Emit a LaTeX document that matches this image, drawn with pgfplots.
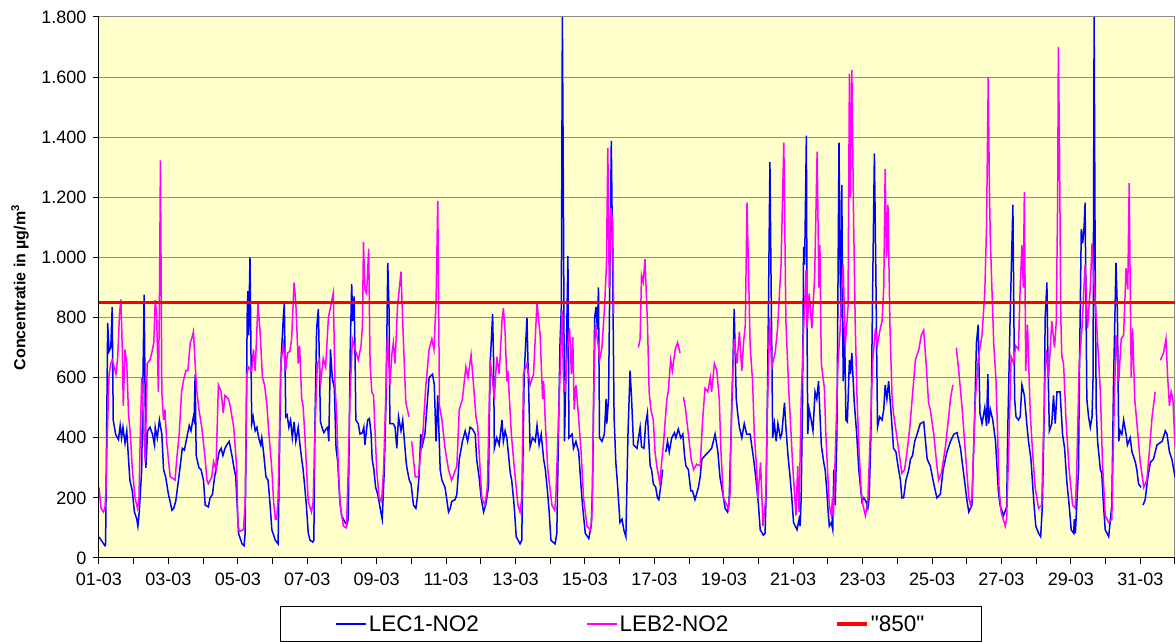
\documentclass[border=0pt]{standalone}
\usepackage{pgfplots}
\pgfplotsset{compat=1.18}
\usepackage{fontspec}
\setmainfont{Liberation Sans}
\newfontfamily\plainfont{Liberation Sans}
\definecolor{bgyellow}{RGB}{255,255,204}
\definecolor{gridgray}{RGB}{140,140,140}
\definecolor{lblue}{RGB}{0,0,255}
\definecolor{lmag}{RGB}{255,0,255}
\definecolor{lred}{RGB}{255,0,0}
\begin{document}
\begin{tikzpicture}[x=1pt,y=1pt]
\useasboundingbox (0,0) rectangle (1176,642);
\begin{axis}[
  at={(99pt,84pt)}, anchor=south west,
  scale only axis, width=1076pt, height=541pt,
  xmin=0, xmax=31, ymin=0, ymax=1800,
  axis x line*=bottom, axis y line*=left,
  axis line style={-, black, line width=1pt},
  axis background/.style={fill=bgyellow, draw=gridgray, line width=1pt},
  xtick={0,...,31},
  xticklabels={01-03,,03-03,,05-03,,07-03,,09-03,,11-03,,13-03,,15-03,,17-03,,19-03,,21-03,,23-03,,25-03,,27-03,,29-03,,31-03,,},
  ytick={0,200,...,1800},
  yticklabels={0,200,400,600,800,1.000,1.200,1.400,1.600,1.800},
  ymajorgrids, grid style={gridgray, line width=1pt},
  tick align=outside, major tick length=6pt,
  tick style={black, line width=1pt},
  tick label style={font=\fontsize{18}{21}\selectfont},
  xticklabel style={yshift=-5pt},
  yticklabel style={xshift=-3pt},
  ylabel={\textbf{Concentratie in µg/m\textsuperscript{3}}},
  every axis y label/.style={at={(axis description cs:-0.0734,0.5)}, rotate=90, anchor=center, font=\fontsize{16}{19}\selectfont},
  unbounded coords=jump,
  legend columns=3,
  legend style={at={(axis description cs:0.1682,-0.0887)}, anchor=north west,
    draw=black, line width=1pt, fill=white,
    font=\fontsize{22.5}{27}\selectfont,
    inner xsep=55pt, inner ysep=7pt,
    /tikz/every even column/.append style={column sep=105pt}},
  legend cell align=left,
  legend image code/.code={\draw[#1] (0pt,0pt) -- (30pt,0pt);},
]
\addplot[lblue, line width=1.5pt] table {
0.00 70
0.17 41
0.19 45
0.25 782
0.29 688
0.34 700
0.38 835
0.41 459
0.48 411
0.56 394
0.61 441
0.65 400
0.69 435
0.75 382
0.80 423
0.87 294
0.89 259
0.96 223
1.02 153
1.09 129
1.12 106
1.16 153
1.23 294
1.30 876
1.35 300
1.40 423
1.47 435
1.54 412
1.60 376
1.62 435
1.68 400
1.74 459
1.81 412
1.86 294
1.92 270
2.00 212
2.05 188
2.10 159
2.15 165
2.21 188
2.27 241
2.34 306
2.40 365
2.46 359
2.53 400
2.60 441
2.65 423
2.72 470
2.74 460
2.77 610
2.80 341
2.88 300
2.94 294
3.01 259
3.06 176
3.15 170
3.20 200
3.27 212
3.33 270
3.39 306
3.46 353
3.52 365
3.57 341
3.63 365
3.68 376
3.75 388
3.83 341
3.88 306
3.94 270
3.97 200
4.02 82
4.12 47
4.18 41
4.21 82
4.24 412
4.27 811
4.29 888
4.31 741
4.35 1000
4.40 447
4.44 470
4.50 423
4.55 435
4.60 400
4.66 376
4.69 400
4.74 353
4.81 270
4.87 259
4.93 176
4.98 94
5.08 59
5.16 47
5.24 647
5.31 800
5.34 847
5.38 470
5.42 476
5.47 435
5.52 459
5.57 400
5.62 453
5.67 388
5.74 435
5.79 376
5.84 329
5.88 294
5.93 235
5.98 165
6.03 82
6.08 59
6.16 53
6.19 59
6.22 435
6.27 764
6.32 829
6.35 647
6.38 453
6.44 429
6.48 417
6.54 429
6.59 435
6.62 388
6.67 694
6.72 600
6.78 565
6.83 365
6.88 318
6.91 247
6.94 188
6.99 141
7.09 118
7.14 112
7.18 129
7.21 412
7.24 706
7.28 911
7.31 788
7.35 870
7.38 647
7.40 459
7.47 447
7.52 412
7.59 417
7.63 435
7.66 376
7.74 459
7.79 464
7.84 412
7.87 329
7.92 294
7.97 235
8.03 212
8.12 153
8.16 129
8.22 294
8.27 529
8.32 982
8.36 811
8.38 447
8.48 447
8.53 435
8.58 365
8.63 470
8.70 423
8.75 459
8.80 388
8.85 318
8.88 294
8.94 259
8.99 247
9.06 176
9.13 165
9.17 200
9.22 270
9.27 412
9.32 376
9.39 412
9.51 600
9.61 612
9.66 576
9.71 388
9.76 541
9.83 294
9.88 259
9.97 235
10.07 153
10.12 165
10.16 188
10.26 194
10.31 212
10.38 329
10.47 388
10.55 423
10.62 388
10.69 435
10.76 429
10.84 412
10.88 329
10.95 270
11.01 200
11.08 153
11.14 176
11.22 235
11.27 647
11.34 811
11.37 647
11.39 365
11.46 400
11.53 376
11.61 459
11.65 388
11.70 423
11.75 400
11.85 282
11.89 259
11.96 176
12.02 71
12.13 47
12.18 59
12.21 294
12.25 612
12.33 800
12.36 647
12.42 370
12.49 400
12.57 388
12.62 441
12.68 376
12.74 412
12.81 329
12.86 294
12.92 223
12.97 153
13.02 59
13.14 47
13.19 82
13.22 294
13.28 706
13.32 835
13.35 1800
13.38 1200
13.41 388
13.46 647
13.51 1005
13.54 400
13.63 412
13.67 365
13.74 388
13.82 353
13.89 235
13.93 176
14.01 82
14.11 65
14.18 106
14.22 235
14.28 800
14.32 835
14.36 760
14.39 900
14.42 400
14.49 388
14.56 412
14.61 529
14.63 447
14.68 529
14.76 1388
14.80 950
14.84 470
14.89 318
14.93 259
15.01 118
15.07 129
15.12 94
15.18 71
15.24 412
15.30 623
15.34 541
15.40 376
15.50 365
15.59 435
15.63 370
15.70 365
15.75 447
15.80 482
15.83 412
15.88 306
15.92 294
15.97 247
16.04 235
16.09 200
16.13 194
16.18 235
16.24 294
16.27 nan
16.33 353
16.38 388
16.43 353
16.50 400
16.58 417
16.62 400
16.69 429
16.76 400
16.82 412
16.87 341
16.91 306
16.98 294
17.05 223
17.10 223
17.17 194
17.27 235
17.32 270
17.37 329
17.46 341
17.56 353
17.65 365
17.75 412
17.83 353
17.89 270
17.96 223
18.04 165
18.11 153
18.15 176
18.21 412
18.25 576
18.30 829
18.36 529
18.40 482
18.45 435
18.52 400
18.59 447
18.66 412
18.76 412
18.86 329
18.92 270
19.00 176
19.05 94
19.14 76
19.19 82
19.22 212
19.27 647
19.33 1317
19.36 953
19.41 400
19.46 447
19.51 388
19.56 447
19.63 400
19.67 412
19.75 517
19.79 435
19.85 341
19.91 270
19.96 200
20.01 118
20.11 94
20.17 129
20.20 106
20.23 200
20.27 529
20.30 1035
20.33 976
20.38 1405
20.40 764
20.42 412
20.46 494
20.52 459
20.57 423
20.63 553
20.68 529
20.73 588
20.81 376
20.88 318
20.92 294
20.97 223
21.00 165
21.04 106
21.10 118
21.14 94
21.17 294
21.21 176
21.26 412
21.32 1382
21.35 976
21.38 800
21.40 1241
21.44 588
21.48 764
21.52 459
21.56 453
21.62 659
21.65 612
21.69 682
21.76 517
21.83 412
21.89 294
21.95 223
21.98 188
22.03 200
22.10 188
22.15 165
22.19 200
22.24 412
22.29 900
22.34 1346
22.38 964
22.43 435
22.49 470
22.56 459
22.61 494
22.65 576
22.70 529
22.75 588
22.82 482
22.89 365
22.96 353
23.02 306
23.09 259
23.13 200
23.18 200
23.25 259
23.33 294
23.38 329
23.44 341
23.50 388
23.57 412
23.66 447
23.76 453
23.86 329
23.95 306
24.05 247
24.14 200
24.24 212
24.32 294
24.43 353
24.53 388
24.63 412
24.72 417
24.82 365
24.91 282
25.01 188
25.06 153
25.15 176
25.23 482
25.28 717
25.33 776
25.38 482
25.44 447
25.52 500
25.57 440
25.61 612
25.63 447
25.68 494
25.75 459
25.83 388
25.87 306
25.91 223
25.96 176
26.06 141
26.15 170
26.18 412
26.25 800
26.33 1176
26.38 529
26.42 470
26.49 459
26.54 470
26.59 576
26.66 541
26.73 447
26.78 388
26.85 329
26.89 259
26.94 176
26.99 106
27.07 82
27.13 71
27.18 176
27.23 470
27.26 800
27.31 917
27.34 650
27.38 423
27.45 447
27.50 541
27.55 447
27.60 553
27.69 553
27.76 412
27.82 365
27.88 259
27.95 176
28.01 94
28.08 82
28.10 129
28.13 82
28.22 294
28.25 647
28.30 1094
28.34 1047
28.38 1100
28.41 1182
28.44 800
28.46 529
28.51 470
28.56 435
28.61 470
28.64 600
28.67 1800
28.70 1000
28.73 500
28.77 388
28.85 294
28.89 282
28.94 176
28.99 94
29.09 71
29.18 176
29.23 588
29.30 982
29.34 823
29.38 388
29.42 423
29.47 412
29.52 459
29.59 412
29.63 376
29.71 400
29.76 353
29.86 318
29.90 294
29.95 247
30.02 235
30.05 nan
30.08 176
30.14 194
30.22 270
30.29 318
30.38 329
30.48 376
30.63 388
30.72 423
30.77 412
30.84 353
30.91 329
31.00 270
};
\addlegendentry{LEC1-NO2}
\addplot[lmag, line width=1.5pt] table {
0.00 235
0.06 165
0.13 153
0.17 165
0.20 223
0.24 412
0.29 612
0.34 647
0.38 659
0.44 635
0.49 612
0.54 670
0.59 811
0.63 860
0.67 700
0.70 506
0.75 694
0.80 647
0.85 482
0.91 400
0.96 294
1.04 200
1.11 165
1.15 188
1.19 412
1.23 600
1.33 318
1.39 647
1.47 659
1.52 682
1.58 717
1.62 858
1.66 811
1.71 553
1.74 830
1.77 1323
1.81 553
1.86 459
1.90 494
1.95 388
2.05 270
2.14 264
2.19 259
2.24 329
2.31 412
2.38 553
2.43 588
2.50 623
2.56 623
2.63 717
2.67 729
2.72 753
2.77 647
2.82 553
2.88 494
2.96 435
3.06 329
3.11 259
3.15 247
3.25 270
3.30 320
3.37 294
3.44 576
3.52 553
3.58 482
3.63 541
3.73 529
3.78 506
3.88 435
3.92 376
3.97 294
4.00 118
4.04 88
4.16 94
4.21 176
4.26 612
4.31 635
4.40 623
4.45 694
4.50 623
4.58 847
4.64 753
4.71 600
4.77 576
4.84 506
4.88 435
4.93 365
4.98 294
5.03 188
5.08 129
5.12 129
5.16 200
5.24 647
5.31 711
5.38 623
5.43 682
5.50 688
5.55 729
5.62 917
5.67 850
5.74 647
5.78 706
5.84 529
5.88 506
5.93 412
5.98 294
6.03 188
6.12 153
6.17 188
6.22 412
6.29 647
6.35 659
6.38 576
6.46 664
6.53 635
6.61 800
6.65 823
6.75 882
6.80 576
6.85 470
6.89 318
6.95 176
7.04 106
7.13 100
7.18 294
7.23 529
7.30 729
7.38 694
7.47 659
7.55 706
7.59 776
7.62 1052
7.66 894
7.71 880
7.77 1029
7.81 647
7.86 553
7.91 541
8.00 294
8.07 200
8.14 188
8.20 294
8.26 529
8.31 741
8.38 576
8.44 680
8.48 717
8.53 647
8.60 835
8.70 953
8.77 723
8.84 517
8.93 470
8.97 nan
9.01 388
9.11 270
9.20 270
9.26 341
9.33 412
9.41 565
9.51 694
9.59 729
9.65 694
9.71 850
9.76 1188
9.81 506
9.88 459
9.97 365
10.07 294
10.16 259
10.31 306
10.38 494
10.47 529
10.57 635
10.63 600
10.72 676
10.79 576
10.86 470
10.91 440
10.98 294
11.03 200
11.12 176
11.19 235
11.27 659
11.34 588
11.39 529
11.46 670
11.53 612
11.61 788
11.65 831
11.70 753
11.75 588
11.78 623
11.88 412
11.97 294
12.07 176
12.13 153
12.18 200
12.23 612
12.33 647
12.42 576
12.52 612
12.62 853
12.66 800
12.71 741
12.78 529
12.81 588
12.86 447
12.93 294
13.05 176
13.13 159
13.16 200
13.26 529
13.34 823
13.38 600
13.43 553
13.50 700
13.56 764
13.61 612
13.65 735
13.69 494
13.74 576
13.80 494
13.89 353
13.96 200
14.06 106
14.15 94
14.20 129
14.25 529
14.30 776
14.38 711
14.42 659
14.49 700
14.57 847
14.62 976
14.66 1364
14.70 900
14.75 1164
14.80 1117
14.83 811
14.86 nan
15.54 700
15.59 729
15.63 941
15.68 918
15.73 994
15.80 788
15.85 553
15.90 494
15.97 459
16.02 353
16.07 306
16.16 247
16.21 318
16.26 376
16.36 529
16.40 553
16.47 659
16.52 623
16.60 694
16.67 717
16.74 682
16.79 nan
16.84 535
16.90 494
16.98 412
17.06 329
17.13 294
17.22 312
17.32 306
17.39 459
17.46 565
17.54 553
17.61 600
17.65 553
17.73 647
17.80 623
17.87 529
17.92 353
17.99 200
18.09 176
18.13 165
18.18 212
18.23 529
18.30 729
18.38 647
18.45 753
18.52 623
18.57 717
18.62 776
18.67 1182
18.76 706
18.83 588
18.88 412
18.95 294
18.98 200
19.06 318
19.13 106
19.21 200
19.26 500
19.32 800
19.38 635
19.48 682
19.55 764
19.65 976
19.73 1382
19.79 788
19.87 565
19.94 412
19.98 318
20.08 141
20.13 306
20.17 153
20.23 529
20.31 788
20.37 958
20.40 764
20.46 880
20.54 764
20.62 941
20.69 1352
20.74 900
20.77 1041
20.81 647
20.90 565
20.94 412
20.99 294
21.04 176
21.10 141
21.13 200
21.16 141
21.23 412
21.29 647
21.35 753
21.40 900
21.44 976
21.50 706
21.58 835
21.62 1611
21.65 1200
21.69 1623
21.74 1129
21.79 764
21.84 529
21.90 353
21.96 223
22.01 176
22.08 141
22.15 188
22.22 412
22.29 650
22.37 764
22.42 706
22.51 764
22.56 788
22.61 900
22.65 1294
22.69 1000
22.73 1176
22.79 764
22.85 529
22.89 482
22.99 400
23.09 318
23.13 282
23.21 294
23.28 353
23.36 435
23.47 588
23.52 659
23.62 694
23.69 741
23.76 758
23.83 647
23.90 517
23.95 494
24.05 412
24.13 318
24.19 259
24.27 282
24.38 365
24.48 470
24.53 529
24.60 576
24.64 nan
24.70 700
24.77 623
24.87 494
24.96 353
25.06 200
25.11 176
25.15 200
25.25 529
25.33 659
25.44 741
25.52 882
25.57 1100
25.62 1600
25.65 1250
25.68 1058
25.78 706
25.84 600
25.89 412
25.93 235
25.99 153
26.11 106
26.15 129
26.22 412
26.28 670
26.35 647
26.41 706
26.49 694
26.54 900
26.59 1041
26.63 900
26.66 1217
26.70 623
26.75 776
26.83 482
26.89 365
26.97 235
27.07 165
27.16 176
27.21 412
27.28 694
27.36 600
27.45 788
27.53 700
27.58 788
27.62 1200
27.64 1700
27.67 1400
27.71 800
27.74 670
27.79 647
27.86 459
27.95 294
28.05 176
28.13 165
28.17 294
28.24 647
28.32 764
28.41 976
28.48 764
28.56 900
28.61 1047
28.65 950
28.75 764
28.85 553
28.91 318
28.99 141
29.09 118
29.18 129
29.23 412
29.30 741
29.38 588
29.45 729
29.52 741
29.59 964
29.64 894
29.68 1247
29.71 900
29.74 600
29.78 764
29.84 529
29.93 412
30.00 318
30.10 235
30.19 260
30.26 353
30.34 470
30.43 553
30.48 nan
30.58 658
30.67 682
30.74 729
30.79 600
30.84 506
30.89 553
30.94 529
31.00 376
};
\addlegendentry{LEB2-NO2}
\addplot[lred, line width=3.5pt] coordinates {(0,850) (31,850)};
\addlegendentry{{\plainfont "850"}}
\end{axis}
\end{tikzpicture}
\end{document}
